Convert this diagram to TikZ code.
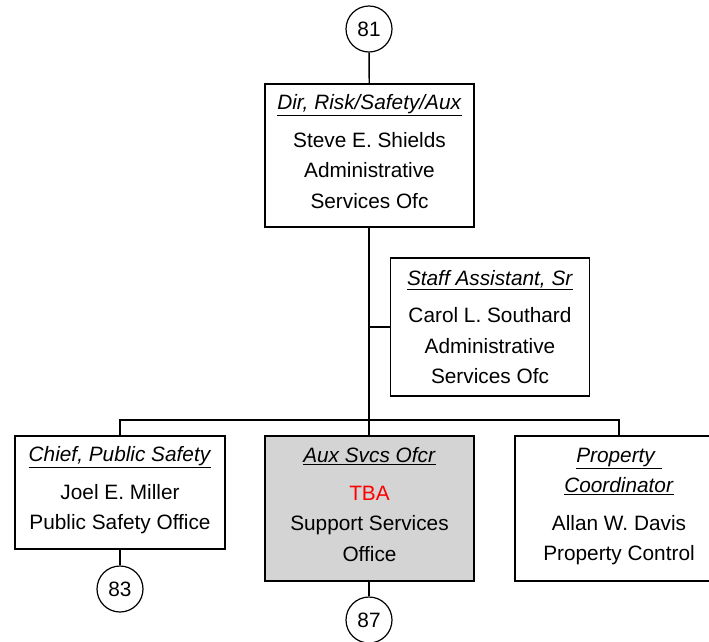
\documentclass[tikz,border=0pt]{standalone}
\usepackage{fontspec}
\setmainfont{Liberation Sans}
\usepackage{xcolor}
\usetikzlibrary{positioning,calc}
\definecolor{vacant}{HTML}{D4D4D4}
\tikzset{
  post/.style    = {rectangle, draw=black, line width=1.4pt, fill=white,
                    align=center, inner sep=0pt, font=\fontsize{20.8}{30.5}\selectfont},
  ref/.style     = {circle, draw=black, line width=1.2pt, fill=white,
                    minimum size=46pt, inner sep=0pt, font=\fontsize{20.8}{24}\selectfont},
  link/.style    = {line width=1.4pt},
}
\newcommand{\jobtitle}[1]{\underline{\textit{#1}}}

\begin{document}
\begin{tikzpicture}[x=1pt,y=-1pt]
  \useasboundingbox (0,0) rectangle (709,641);

  \node[ref] (c81) at (369,29) {81};
  \node[post,minimum width=209pt,minimum height=143pt] (dir) at (369.5,155.5)
    {\jobtitle{Dir, Risk/Safety/Aux}\\[7pt]Steve E. Shields\\Administrative\\ Services Ofc\\[-22pt]};
  \node[post,minimum width=199pt,minimum height=138pt] (staff) at (490,327)
    {\jobtitle{Staff Assistant, Sr}\\[7pt]Carol L. Southard\\Administrative\\ Services Ofc};

  \coordinate (bus) at (369,420);
  \node[post,minimum width=210pt,minimum height=113pt] (chief) at (120,492.5)
    {\jobtitle{Chief, Public Safety}\\[7pt]Joel E. Miller\\Public Safety Office\\[-22pt]};
  \node[post,fill=vacant,minimum width=209pt,minimum height=145pt] (aux) at (369.5,508.5)
    {\jobtitle{Aux Svcs Ofcr}\\[7pt]\textcolor{red}{TBA}\\Support Services\\Office\\[-22pt]};
  \node[post,minimum width=208pt,minimum height=145pt] (prop) at (619,508.5)
    {\jobtitle{Property\ }\\\jobtitle{Coordinator}\\[7pt]Allan W. Davis\\Property Control\\[-22pt]};

  \node[ref] (c83) at (120,589) {83};
  \node[ref] (c87) at (369,620) {87};

  \draw[link] (c81) -- (dir);
  \draw[link] (dir.south -| bus) -- (bus);
  \draw[link] (staff.west) -- (staff.west -| bus);
  \draw[link] (chief.north) |- (bus) -| (prop.north);
  \draw[link] (bus) -- (aux.north -| bus);
  \draw[link] (chief) -- (c83);
  \draw[link] (aux.south -| c87) -- (c87);
\end{tikzpicture}
\end{document}
